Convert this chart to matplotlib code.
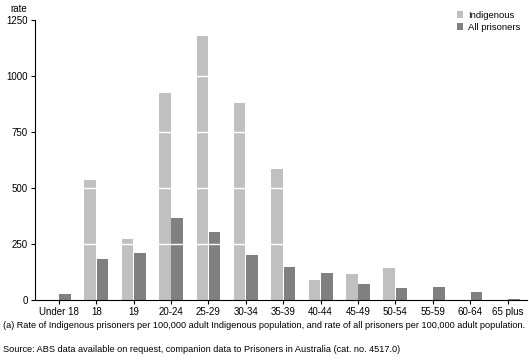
import matplotlib.pyplot as plt
import numpy as np

plt.rcParams['font.family'] = ['Liberation Sans', 'DejaVu Sans']

ageGroups = ['Under 18', '18', '19', '20-24', '25-29', '30-34', '35-39',
             '40-44', '45-49', '50-54', '55-59', '60-64', '65 plus']
indigenous = [0, 536, 272, 924, 1178, 879, 585, 89, 116, 143, 0, 0, 0]
allPrisoners = [27, 183, 210, 366, 304, 201, 147, 120, 71, 54, 58, 36, 5]

lightGrey = '#c0c0c0'
darkGrey = '#808080'

fig = plt.figure(figsize=(5.29, 3.63), dpi=100)
ax = fig.add_axes([35 / 529, 1 - 300 / 363, 492 / 529, 280 / 363])

x = np.arange(len(ageGroups))
w = 0.31
ax.bar(x - w / 2 - 0.01, indigenous, w, color=lightGrey, label='Indigenous', zorder=1)
ax.bar(x + w / 2 + 0.01, allPrisoners, w, color=darkGrey, label='All prisoners', zorder=1)

# white gridlines only show up on top of the bars
for yv in [250, 500, 750, 1000]:
    ax.axhline(yv, color='white', lw=1, zorder=2)

ax.set_xlim(-0.64, 12.52)
ax.set_ylim(0, 1250)
ax.set_yticks([0, 250, 500, 750, 1000, 1250])
ax.set_xticks(x)
ax.set_xticklabels(ageGroups)
ax.tick_params(axis='both', labelsize=7, length=3, width=0.8, direction='out', pad=2)

for s in ['top', 'right']:
    ax.spines[s].set_visible(False)
for s in ['left', 'bottom']:
    ax.spines[s].set_linewidth(0.8)

fig.text(10 / 529, 1 - 9 / 363, 'rate', fontsize=7, va='center', ha='left')

leg = ax.legend(loc='upper left', bbox_to_anchor=(452 / 529, 1 - 6 / 363),
                bbox_transform=fig.transFigure, frameon=False, fontsize=6.8,
                handlelength=0.7, handleheight=0.7, handletextpad=0.5,
                labelspacing=0.3, borderpad=0)

fig.text(3 / 529, 1 - 326 / 363,
         '(a) Rate of Indigenous prisoners per 100,000 adult Indigenous population, '
         'and rate of all prisoners per 100,000 adult population.',
         fontsize=6.55, va='center', ha='left')
fig.text(3 / 529, 1 - 350 / 363,
         'Source: ABS data available on request, companion data to Prisoners in '
         'Australia (cat. no. 4517.0)',
         fontsize=6.55, va='center', ha='left')

fig.savefig('out.png', dpi=100)
